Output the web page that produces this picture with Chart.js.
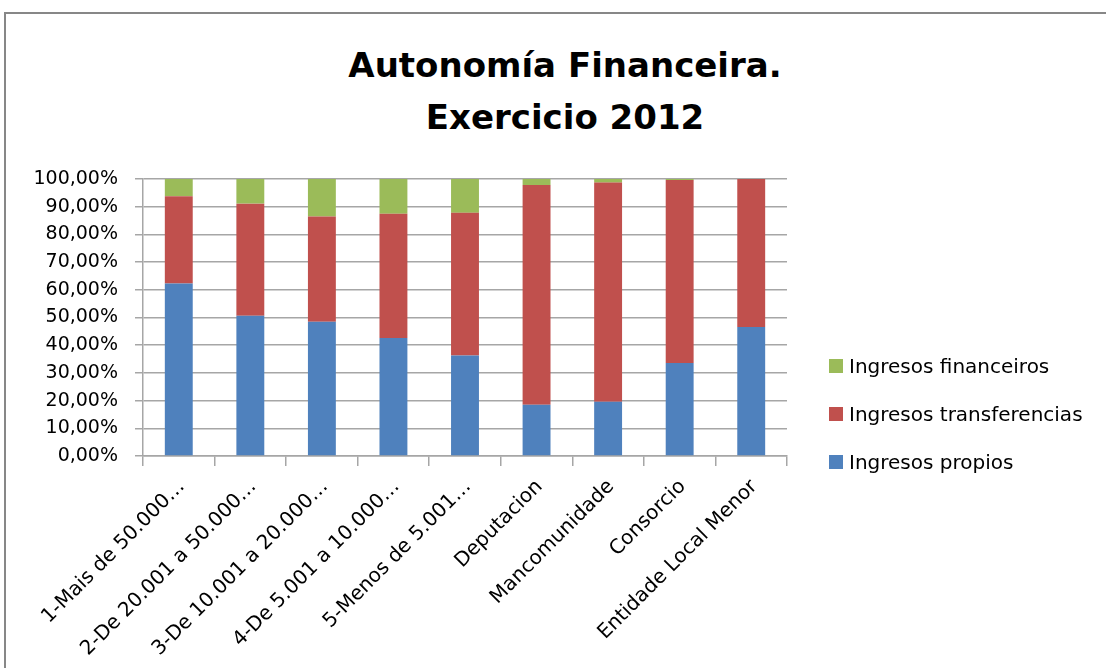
<!DOCTYPE html>
<html>
<head>
<meta charset="utf-8">
<script src="https://cdn.jsdelivr.net/npm/chart.js@4/dist/chart.umd.min.js"></script>
<style>
  body { margin: 0; overflow: hidden; background: #fff; font-family: "DejaVu Sans", sans-serif; }
  #frame { position: absolute; left: 4px; top: 12px; width: 2000px; height: 2000px; border: 2px solid #878787; }
  #wrap { position: absolute; left: 0; top: 0; width: 1106px; height: 668px; }
  #title { position: absolute; left: 265px; width: 600px; top: 39px; text-align: center;
           font: bold 34px "DejaVu Sans", sans-serif; line-height: 52px; color: #000; }
  #legend { position: absolute; left: 829px; top: 342px; font-size: 20px; line-height: 48px; color: #000; white-space: nowrap; }
  #legend .box { display: inline-block; width: 14px; height: 14px; margin-right: 6px; }
</style>
</head>
<body>
<div id="frame"></div>
<div id="title">Autonomía Financeira.<br>Exercicio 2012</div>
<div id="wrap"><canvas id="chart"></canvas></div>
<div id="legend"></div>
<script>
// DATA
const categories = [
  "1-Mais de 50.000…",
  "2-De 20.001 a 50.000…",
  "3-De 10.001 a 20.000…",
  "4-De 5.001 a 10.000…",
  "5-Menos de 5.001…",
  "Deputacion",
  "Mancomunidade",
  "Consorcio",
  "Entidade Local Menor"
];
const propios = [62.3, 50.6, 48.5, 42.6, 36.3, 18.5, 19.6, 33.6, 46.6];
const transferencias = [31.5, 40.5, 38.0, 44.9, 51.5, 79.3, 79.1, 66.0, 53.4];
const financeiros = [6.2, 8.9, 13.5, 12.5, 12.2, 2.2, 1.3, 0.4, 0];
const yTicks = [0, 10, 20, 30, 40, 50, 60, 70, 80, 90, 100];

const series = [
  { label: "Ingresos propios", data: propios, color: "#4f81bd" },
  { label: "Ingresos transferencias", data: transferencias, color: "#c0504d" },
  { label: "Ingresos financeiros", data: financeiros, color: "#9bbb59" }
];

// LEGEND (top to bottom = reverse stack order)
const legend = document.getElementById("legend");
series.slice().reverse().forEach(s => {
  const row = document.createElement("div");
  row.innerHTML = '<span class="box" style="background:' + s.color + '"></span>' + s.label;
  legend.appendChild(row);
});

const gridColor = "#a6a6a6";
const font = { family: "DejaVu Sans", size: 19 };

new Chart(document.getElementById("chart"), {
  type: "bar",
  data: {
    labels: categories,
    datasets: series.map(s => ({
      label: s.label, data: s.data, backgroundColor: s.color,
      barPercentage: 0.39, categoryPercentage: 1
    }))
  },
  options: {
    responsive: true,
    maintainAspectRatio: false,
    animation: false,
    layout: { padding: { top: 179, right: 319, left: 0, bottom: 0 } },
    plugins: { legend: { display: false }, title: { display: false }, tooltip: { enabled: false } },
    scales: {
      x: {
        stacked: true,
        afterFit: s => { s.height = 212; },
        grid: { offset: true, drawOnChartArea: false, color: gridColor, lineWidth: 1.5, tickLength: 10 },
        border: { color: gridColor, width: 1.5 },
        ticks: { autoSkip: false, minRotation: 45, maxRotation: 45, color: "#000", padding: 9, labelOffset: 3,
                 font: { family: "DejaVu Sans", size: 20 } }
      },
      y: {
        stacked: true,
        min: 0, max: 100,
        afterFit: s => { s.width = 143; },
        afterBuildTicks: s => { s.ticks = yTicks.map(v => ({ value: v })); },
        grid: { color: gridColor, lineWidth: 1.5, tickLength: 8 },
        border: { color: gridColor, width: 1.5 },
        ticks: { color: "#000", padding: 17, font,
                 callback: v => v.toFixed(2).replace(".", ",") + "%" }
      }
    }
  }
});
</script>
</body>
</html>
